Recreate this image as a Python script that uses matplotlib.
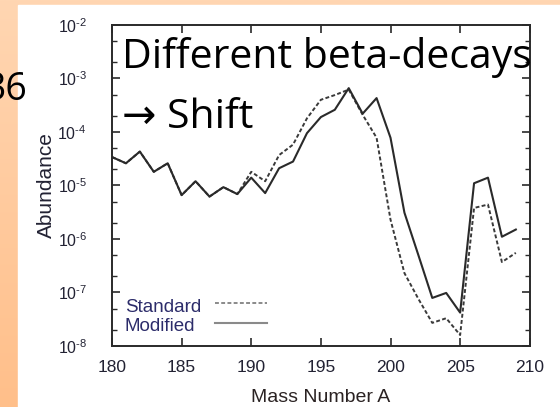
import numpy as np
import matplotlib
matplotlib.use('Agg')
import matplotlib.pyplot as plt
from matplotlib.patches import Rectangle
from matplotlib.colors import LinearSegmentedColormap
from matplotlib.ticker import LogLocator, NullFormatter

# abundances vs mass number, standard and modified beta-decay rates
mass_number = list(range(180, 210))
standard = [3.4e-5, 2.6e-5, 4.3e-5, 1.8e-5, 2.6e-5, 6.6e-6, 1.2e-5, 6.2e-6, 9.3e-6, 6.9e-6,
            1.8e-5, 1.2e-5, 3.7e-5, 5.8e-5, 1.8e-4, 4.0e-4, 4.9e-4, 6.2e-4, 2.1e-4, 7.8e-5,
            2.3e-6, 2.3e-7, 7.6e-8, 2.7e-8, 3.3e-8, 1.6e-8, 3.8e-6, 4.4e-6, 3.7e-7, 5.5e-7]
modified = [3.4e-5, 2.6e-5, 4.3e-5, 1.8e-5, 2.6e-5, 6.6e-6, 1.2e-5, 6.2e-6, 9.3e-6, 6.9e-6,
            1.4e-5, 7.2e-6, 2.1e-5, 2.8e-5, 9.5e-5, 1.9e-4, 2.6e-4, 6.6e-4, 2.2e-4, 4.3e-4,
            7.8e-5, 3.1e-6, 5.0e-7, 7.9e-8, 9.8e-8, 4.2e-8, 1.1e-5, 1.4e-5, 1.1e-6, 1.5e-6]

x_ticks = [180, 185, 190, 195, 200, 205, 210]
y_ticks = [1e-8, 1e-7, 1e-6, 1e-5, 1e-4, 1e-3, 1e-2]
y_tick_labels = [r'$10^{\text{-}8}$', r'$10^{\text{-}7}$', r'$10^{\text{-}6}$', r'$10^{\text{-}5}$',
                 r'$10^{\text{-}4}$', r'$10^{\text{-}3}$', r'$10^{\text{-}2}$']

plt.rcParams['font.family'] = ['Liberation Sans', 'DejaVu Sans']
plt.rcParams['mathtext.fontset'] = 'custom'
plt.rcParams['mathtext.rm'] = 'Liberation Sans'
plt.rcParams['mathtext.default'] = 'regular'

fig = plt.figure(figsize=(5.6, 4.07), dpi=100)

# slide backdrop: peach gradient with a white panel
bg = fig.add_axes([0, 0, 1, 1], zorder=-10)
grad = np.linspace(0, 1, 256).reshape(-1, 1)
peach = LinearSegmentedColormap.from_list('peach', ['#ffd6b2', '#ffbf8a'])
bg.imshow(grad, aspect='auto', cmap=peach, extent=[0, 1, 0, 1], origin='upper')
bg.add_patch(Rectangle((18 / 560, 0), 1, 1 - 5 / 407, color='white'))
bg.set_xlim(0, 1)
bg.set_ylim(0, 1)
bg.axis('off')

ax = fig.add_axes([0.2, 0.15, 0.746, 0.7886])
ax.plot(mass_number, standard, color='#3a3a3a', lw=1.4, ls=(0, (2, 1.2)))
ax.plot(mass_number, modified, color='#2a2a2a', lw=1.5)

ax.set_yscale('log')
ax.set_xlim(180, 210)
ax.set_ylim(1e-8, 1e-2)
ax.set_xticks(x_ticks)
ax.set_yticks(y_ticks, y_tick_labels)
ax.yaxis.set_minor_locator(LogLocator(base=10, subs=(2.0, 5.0)))
ax.yaxis.set_minor_formatter(NullFormatter())
ax.xaxis.set_minor_locator(plt.NullLocator())

for s in ax.spines.values():
    s.set_linewidth(1.4)
    s.set_color('#2a2a2a')
ax.tick_params(which='both', direction='in', top=True, right=True,
               color='#2a2a2a', labelcolor='#222233')
ax.tick_params(which='major', length=6, width=1.2)
ax.tick_params(which='minor', length=3.5, width=1.0)
ax.tick_params(axis='x', pad=10, labelsize=12.5)
ax.tick_params(axis='y', pad=18, labelsize=11.5)

ax.set_xlabel('Mass Number A', fontsize=14, color='#2a2222')
ax.set_ylabel('Abundance', fontsize=15, color='#222233')
ax.xaxis.set_label_coords(0.5, -0.135)
ax.yaxis.set_label_coords(-0.135, 0.5)

# key in the lower left corner, gnuplot style
ax.text(0.031, 0.106, 'Standard', transform=ax.transAxes, fontsize=13.5,
        color='#2c2c6a', va='baseline')
ax.text(0.031, 0.047, 'Modified', transform=ax.transAxes, fontsize=13.5,
        color='#2c2c6a', va='baseline')
ax.plot([0.246, 0.371], [0.134, 0.134], transform=ax.transAxes,
        color='#8a8a8a', lw=1.4, ls=(0, (2, 1.2)))
ax.plot([0.246, 0.371], [0.072, 0.072], transform=ax.transAxes,
        color='#8a8a8a', lw=1.5)

big = ['Open Sans', 'DejaVu Sans']
fig.text(0.218, 0.833, 'Different beta-decays', fontsize=29.5, family=big, color='black')
fig.text(0.218, 0.685, '\u2192 Shift', fontsize=29.5, family=big, color='black')
fig.text(27 / 560, 0.754, '36', ha='right', fontsize=27, family=big, color='black')

fig.savefig('out.png', dpi=100)
